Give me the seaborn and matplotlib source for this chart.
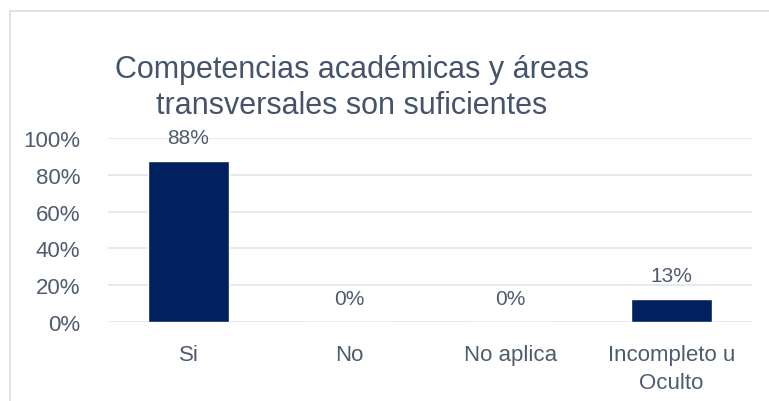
import matplotlib
matplotlib.use('Agg')
import matplotlib.pyplot as plt
from matplotlib.lines import Line2D
import seaborn as sns
import pandas as pd

categorias = ['Si', 'No', 'No aplica', 'Incompleto u\nOculto']
valores = [0.875, 0.0, 0.0, 0.125]
etiquetas = ['88%', '0%', '0%', '13%']
ticks_y = [0, 0.2, 0.4, 0.6, 0.8, 1.0]
ticks_txt = ['0%', '20%', '40%', '60%', '80%', '100%']

sns.set_theme(style='white')
plt.rcParams['font.family'] = ['Liberation Sans', 'DejaVu Sans']

df = pd.DataFrame({'cat': categorias, 'val': valores})

W, H = 769, 402
fig = plt.figure(figsize=(W / 100, H / 100), dpi=100)
ax = fig.add_axes([108 / W, 1 - 323 / H, (752 - 108) / W, (323 - 139) / H])

sns.barplot(data=df, x='cat', y='val', color='#002060', saturation=1, width=0.5, ax=ax)

ax.set_ylim(0, 1.0)
ax.set_xlim(-0.5, 3.5)
ax.set_yticks(ticks_y)
ax.set_yticklabels(ticks_txt)
ax.yaxis.grid(True, color='#E1E5EA', linewidth=1.2)
ax.set_axisbelow(True)
for s in ax.spines.values():
    s.set_visible(False)
ax.set_xlabel('')
ax.set_ylabel('')
ax.tick_params(axis='y', colors='#4F5B6E', labelsize=16, length=0, pad=20)
ax.tick_params(axis='x', colors='#4F5B6E', labelsize=16, length=0, pad=16)
for lbl in ax.get_xticklabels():
    lbl.set_linespacing(1.45)

for i, (v, t) in enumerate(zip(valores, etiquetas)):
    ax.annotate(t, (i, v), xytext=(0, 10), textcoords='offset points',
                ha='center', va='bottom', fontsize=15, color='#4F5B6E')

fig.text(352 / W, 1 - 88 / H, 'Competencias académicas y áreas\ntransversales son suficientes',
         ha='center', va='center', fontsize=22, color='#44546A', linespacing=1.3)

# marco del gráfico
fig.add_artist(Line2D([10 / W, 1], [1 - 12 / H, 1 - 12 / H], color='#D9DDE2', linewidth=1.2))
fig.add_artist(Line2D([10 / W, 10 / W], [0, 1 - 12 / H], color='#D9DDE2', linewidth=1.2))

fig.savefig('out.png', dpi=100)
